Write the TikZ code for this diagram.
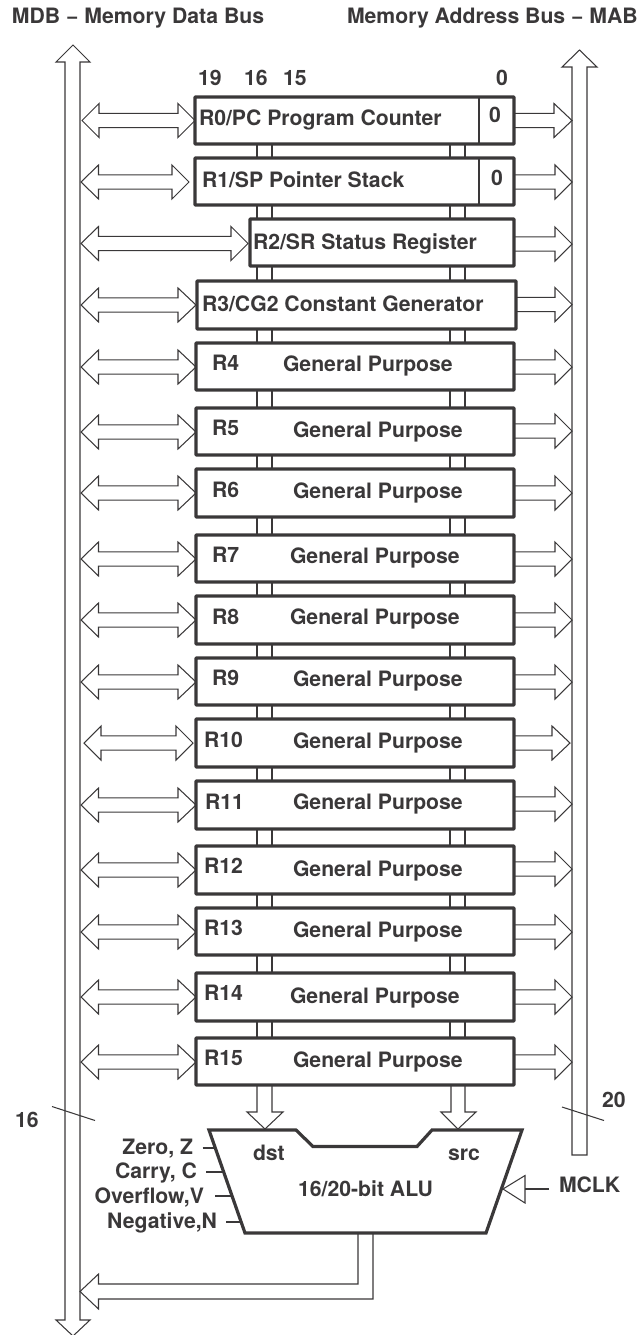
\documentclass[tikz,border=0pt]{standalone}
\usepackage{fontspec}
\setmainfont{TeX Gyre Heros}
\definecolor{ink}{HTML}{3A3839}
\tikzset{
  x=1pt,y=-1pt,
  regbox/.style={draw=ink,line width=3.2pt,fill=white,rounded corners=0.6pt,anchor=north west,inner sep=0pt,outer sep=0pt},
  thinline/.style={draw=ink,line width=1.05pt,line join=miter},
  aluline/.style={draw=ink,line width=3.2pt,line join=miter},
  lbl/.style={anchor=base west,inner sep=0pt,outer sep=0pt,text=ink,font=\fontsize{21.2}{24}\selectfont\bfseries},
  lblr/.style={lbl,anchor=base east}
}
\begin{document}
\begin{tikzpicture}
\useasboundingbox (0,0) rectangle (638,1335);
% headings
\node[lbl] (mdb) at (12,24) {MDB − Memory Data Bus};
\node[lbl] (mab) at (347,24) {Memory Address Bus − MAB};
\node[lbl] (b19) at (198,86) {19};
\node[lbl] (b16) at (244,86) {16};
\node[lbl] (b15) at (283,86) {15};
\node[lbl] (b0) at (496,86) {0};
% buses
\draw[thinline] (73,45) -- (90,62) -- (80,62) -- (80,1320) -- (90,1320) -- (73,1336) -- (56,1320) -- (65,1320) -- (65,62) -- (56,62) -- cycle;
\draw[thinline] (579.5,50) -- (597,67) -- (587,67) -- (587,1155) -- (572,1155) -- (572,67) -- (562,67) -- cycle;
% registers: name / left / top / right / bottom
\foreach \nm/\xl/\yt/\xr/\yb in {0/195/97/514/144,1/195/158/514/205,2/250/219/514/266,3/197/281/516/329,
  4/196/343/514/390,5/196/408/514/455,6/196/469/514/517,7/196/535/514/582,8/196/596/514/644,
  9/196/658/514/705,10/196/719/514/767,11/196/781/514/829,12/196/846/514/894,13/196/908/514/955,
  14/196/973/514/1021,15/196/1038/514/1085}{
  \pgfmathsetlengthmacro{\boxw}{\xr-\xl}
  \pgfmathsetlengthmacro{\boxh}{\yb-\yt}
  \node[regbox,minimum width=\boxw,minimum height=\boxh] (r\nm) at (\xl,\yt) {};
}
% links between registers
\foreach \i/\j in {0/1,1/2,2/3,3/4,4/5,5/6,6/7,7/8,8/9,9/10,10/11,11/12,12/13,13/14,14/15}{
  \foreach \xx in {257,272,450,465}{
    \draw[thinline] (\xx,0 |- r\i.south) -- (\xx,0 |- r\j.north);
  }
}
% MDB <-> register arrows: register / y / a / b / c / d
\foreach \nm/\yy/\pa/\pb/\pc/\pd in {0/120.5/82/99/178/195,1/182/81/98.5/172/189,2/243.5/81/98.5/231/248,3/305/81/98.5/178/196,
  4/367/81/98.5/178/196,5/432/81/98.5/178/196,6/493/81/98.5/178/196,7/559/81/98.5/178/196,8/620/81/98.5/178/196,
  9/682/81/98.5/178/196,10/743/84/101/176/193,11/805/81/98.5/178/196,12/870/81/98.5/178/196,13/932/81/98.5/178/196,
  14/997/81/98.5/178/196,15/1062/81/98.5/178/196}{
  \draw[thinline] (\pa,\yy) -- (\pb,\yy-17) -- (\pb,\yy-7.2) -- (\pc,\yy-7.2) -- (\pc,\yy-17) -- (\pd,\yy) -- (\pc,\yy+17) -- (\pc,\yy+7.2) -- (\pb,\yy+7.2) -- (\pb,\yy+17) -- cycle;
}
% register -> MAB arrows: register / y / back / tip
\foreach \nm/\yy/\bk/\tp in {0/120.5/554/572,1/182/555/572,2/244/555/572,3/304.5/555/572,4/367/555/572,5/431/555/572,
  6/493/555/572,7/559/555/572,8/620/555/572,9/682/555/572,10/743/552/570,11/804/555/572,12/869/555/572,13/932/555/572,
  14/997/555/572,15/1062/555/572}{
  \draw[thinline] (r\nm.east |- 0,\yy-7.2) -- (\bk,\yy-7.2) -- (\bk,\yy-17) -- (\tp,\yy) -- (\bk,\yy+17) -- (\bk,\yy+7.2) -- (r\nm.east |- 0,\yy+7.2);
}
% 0 cells
\draw[thinline] (479,0 |- r0.north) -- (479,0 |- r0.south);
\draw[thinline] (479,0 |- r1.north) -- (479,0 |- r1.south);
% register texts
\node[lbl] (t0) at (199,125) {R0/PC Program Counter};
\node[lbl] (z0) at (489,123) {0};
\node[lbl] (t1) at (202,187) {R1/SP Pointer Stack};
\node[lbl] (z1) at (491,185) {0};
\node[lbl] (t2) at (253,249) {R2/SR Status Register};
\node[lbl] (t3) at (202,311) {R3/CG2 Constant Generator};
\foreach \nm/\lx/\ly/\gx/\gy in {4/212/370/283/371,5/212/435/293/437,6/212/497/293/498,7/212/562/290/563,8/212/624/290/624,
  9/212/685/293/686,10/204/747/293/748,11/205/809/293/809,12/204/873/293/876,13/204/935/293/937,14/204/1000/290/1003,15/204/1065/293/1067}{
  \node[lbl] (n\nm) at (\lx,\ly) {R\nm};
  \node[lbl] (g\nm) at (\gx,\gy) {General Purpose};
}
% ALU
\coordinate (alutl) at (209,1130);
\coordinate (alutr) at (522,1130);
\coordinate (alubr) at (486,1233);
\coordinate (alubl) at (245,1233);
\draw[aluline] (alutl) -- (296,1130) -- (313,1146.5) -- (417,1146.5) -- (432,1130) -- (alutr) -- (alubr) -- (alubl) -- cycle;
% register -> ALU arrows
\draw[thinline] (257,0 |- r15.south) -- (257,1112) -- (247,1112) -- (265,1129) -- (283,1112) -- (272,1112) -- (272,0 |- r15.south);
\draw[thinline] (451,0 |- r15.south) -- (451,1112) -- (441,1112) -- (458,1129) -- (476,1112) -- (465,1112) -- (465,0 |- r15.south);
% ALU -> MDB
\draw[thinline] (358,0 |- alubl) -- (358,1284) -- (98.5,1284) -- (98.5,1274) -- (80,1291.5) -- (98.5,1309) -- (98.5,1299) -- (373,1299) -- (373,0 |- alubl);
% slashes and widths
\draw[thinline] (52,1106.5) -- (95,1120.5);
\draw[thinline] (562,1107) -- (604,1120.5);
\node[lbl] (w16) at (15,1127) {16};
\node[lbl] (w20) at (602,1107) {20};
% flags
\node[lblr] (fz) at (193,1154) {Zero, Z};
\node[lblr] (fc) at (197,1178) {Carry, C};
\node[lblr] (fv) at (204,1203) {Overflow,V};
\node[lblr] (fn) at (217,1228) {Negative,N};
\draw[thinline] (202.5,1148) -- (215.3,1148);
\draw[thinline] (206,1172) -- (223.7,1172);
\draw[thinline] (215,1196) -- (232,1196);
\draw[thinline] (226,1222) -- (241,1222);
% ALU labels
\node[lbl] (dst) at (253,1160) {dst};
\node[lbl] (src) at (448,1160) {src};
\node[lblr] (alu) at (433,1196) {16/20-bit ALU};
% MCLK
\node[lbl] (mclk) at (559,1192) {MCLK};
\coordinate (clkin) at (549,1189);
\draw[thinline] (clkin) -- (525,1189);
\draw[thinline] (503,1189) -- (525,1175.5) -- (525,1203) -- cycle;
\end{tikzpicture}
\end{document}
